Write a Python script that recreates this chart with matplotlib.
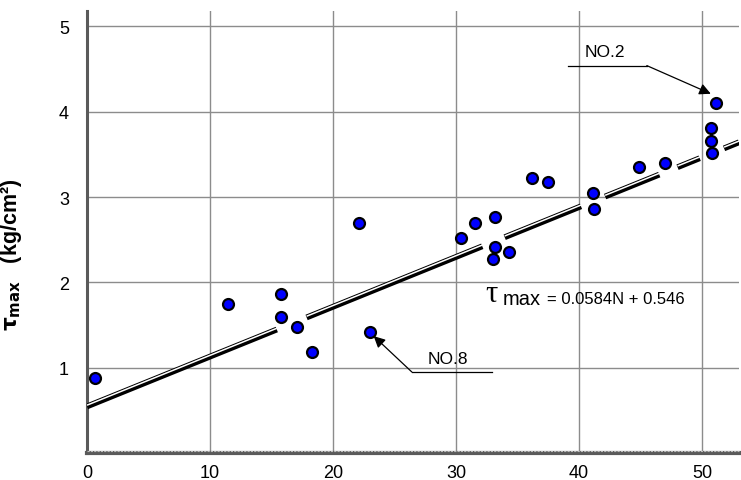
"""
    Scatter of the maximum shear stress against N with the fitted line.
"""
import numpy as np
import matplotlib
matplotlib.use('Agg')
import matplotlib.pyplot as plt
import matplotlib.transforms as mtransforms

plt.rcParams['font.family'] = ['Liberation Sans', 'DejaVu Sans']

# Measured points
N_VALUES = [0.65, 11.5, 15.8, 15.8, 17.1, 18.3, 22.1, 23.0,
            30.4, 31.5, 33.2, 33.2, 33.0, 34.3, 36.2, 37.5,
            41.1, 41.2, 44.9, 47.0, 50.7, 50.7, 50.8, 51.1]
TAU_VALUES = [0.88, 1.75, 1.86, 1.59, 1.48, 1.18, 2.70, 1.42,
              2.52, 2.69, 2.76, 2.42, 2.27, 2.36, 3.22, 3.18,
              3.05, 2.86, 3.35, 3.40, 3.81, 3.66, 3.51, 4.10]

# Regression: tau_max = 0.0584N + 0.546
SLOPE = 0.0584
INTERCEPT = 0.546

X_TICKS = [0, 10, 20, 30, 40, 50]
Y_TICKS = [1, 2, 3, 4, 5]

GRID_COLOR = '#8c8c8c'
AXIS_COLOR = '#5a5a5a'


def draw_fit(ax, fig):
    """
        Double-stroke regression line, broken around the markers.
    """
    xs = np.linspace(0, 53, 3000)
    ys = SLOPE * xs + INTERCEPT
    line_px = ax.transData.transform(np.column_stack([xs, ys]))
    pts_px = ax.transData.transform(np.column_stack([N_VALUES, TAU_VALUES]))
    dist = np.min(np.hypot(line_px[:, None, 0] - pts_px[None, :, 0],
                           line_px[:, None, 1] - pts_px[None, :, 1]), axis=1)
    ys_masked = np.ma.masked_where(dist < 13, ys)

    ax.plot(xs, ys_masked, color='black', lw=4.2, solid_capstyle='butt',
            zorder=3)
    shift = mtransforms.offset_copy(ax.transData, fig=fig, x=0, y=0.9,
                                    units='points')
    ax.plot(xs, ys_masked, color='white', lw=1.1, solid_capstyle='butt',
            transform=shift, zorder=3)


def main():
    fig = plt.figure(figsize=(7.41, 4.81), dpi=100)
    ax = fig.add_axes([0.1174, 0.0561, 0.880, 0.919])
    ax.set_xlim(0, 53)
    ax.set_ylim(0, 5.18)

    ax.set_xticks(X_TICKS)
    ax.set_yticks(Y_TICKS)
    ax.tick_params(length=0, labelsize=13, colors='black')
    ax.tick_params(axis='y', pad=13)
    ax.tick_params(axis='x', pad=8)
    ax.grid(True, color=GRID_COLOR, lw=1.0)
    ax.set_axisbelow(True)

    for side in ('top', 'right'):
        ax.spines[side].set_visible(False)
    ax.spines['left'].set_color(AXIS_COLOR)
    ax.spines['left'].set_linewidth(2.2)
    ax.spines['bottom'].set_color(AXIS_COLOR)
    ax.spines['bottom'].set_linewidth(3)
    ax.axhline(0.02, color='#bdbdbd', lw=0.8, ls=(0, (2, 1)), zorder=4,
               clip_on=False)

    draw_fit(ax, fig)

    ax.scatter(N_VALUES, TAU_VALUES, s=62, c='#0000ff', edgecolors='black',
               linewidths=1.6, zorder=5)

    # Callouts for specimens NO.2 and NO.8
    arrow = dict(arrowstyle='-|>', color='black', lw=0.9,
                 mutation_scale=17, shrinkA=0, shrinkB=0)
    ax.plot([39.1, 45.5], [4.54, 4.54], color='black', lw=0.9)
    ax.annotate('', xy=(50.7, 4.21), xytext=(45.5, 4.54), arrowprops=arrow)
    ax.text(42.1, 4.70, 'NO.2', ha='center', va='center', fontsize=12.5)

    ax.plot([26.4, 32.9], [0.95, 0.95], color='black', lw=0.9)
    ax.annotate('', xy=(23.3, 1.37), xytext=(26.4, 0.95), arrowprops=arrow)
    ax.text(29.35, 1.11, 'NO.8', ha='center', va='center', fontsize=12.5)

    # Regression equation
    ax.text(32.4, 1.78, 'τ', fontsize=22, family=['Liberation Serif'],
            ha='left', va='baseline')
    ax.text(33.8, 1.745, 'max', fontsize=14.5, ha='left', va='baseline')
    ax.text(37.4, 1.755, '= 0.0584N + 0.546', fontsize=12, ha='left',
            va='baseline')

    ax.set_ylabel(r'$\mathbf{\tau}_{\mathbf{max}}$   (kg/cm²)', fontsize=15.5,
                  fontweight='bold')
    ax.yaxis.set_label_coords(-0.097, 0.45)

    fig.savefig('out.png', dpi=100)


if __name__ == "__main__":
    main()
